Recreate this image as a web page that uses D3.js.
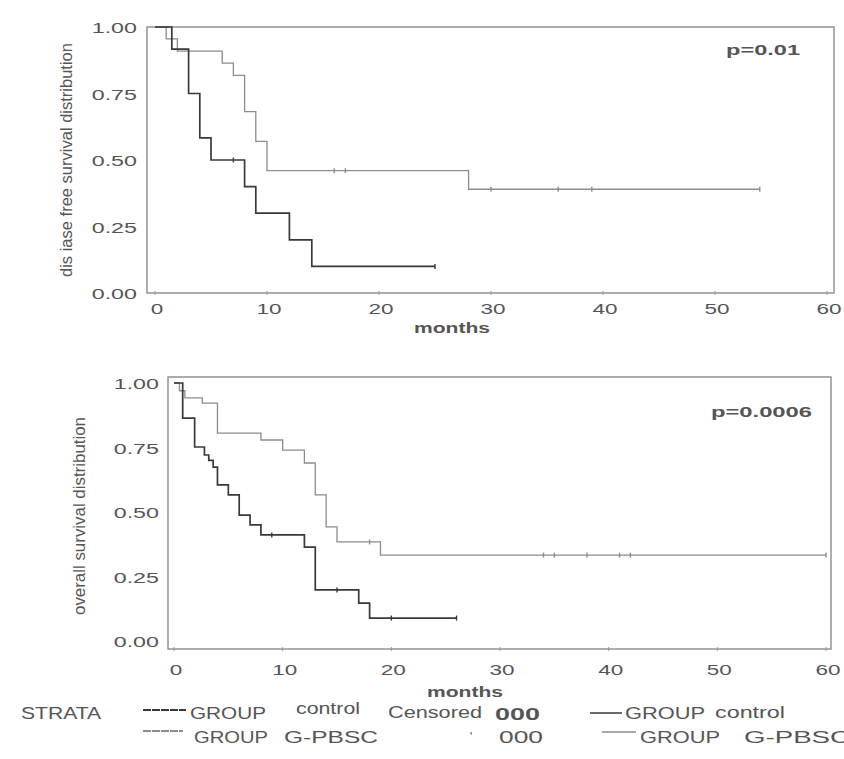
<!DOCTYPE html>
<html>
<head>
<meta charset="utf-8">
<script src="https://cdn.jsdelivr.net/npm/d3@7"></script>
<style>
  body { margin: 0; background: #fff; }
  svg { display: block; }
  text { font-family: "Liberation Sans", Arial, sans-serif; fill: #555; }
</style>
</head>
<body>
<svg id="chart" width="844" height="759"></svg>
<script>
// tick values shared by both panels
const monthTicks = [0, 10, 20, 30, 40, 50, 60];
const survTicks = [0, 0.25, 0.5, 0.75, 1];

// disease free survival - control group
const dfsControlT = [0, 1.5, 3, 4, 5, 8, 9, 12, 14];
const dfsControlS = [1, 0.917, 0.75, 0.583, 0.5, 0.4, 0.3, 0.2, 0.1];
const dfsControlEnd = 25;
const dfsControlCens = [7, 25];

// disease free survival - G-PBSC group
const dfsGpbscT = [0, 1, 2, 6, 7, 8, 9, 10, 28];
const dfsGpbscS = [1, 0.955, 0.909, 0.864, 0.818, 0.682, 0.57, 0.46, 0.39];
const dfsGpbscEnd = 54;
const dfsGpbscCens = [16, 17, 30, 36, 39, 54];

// overall survival - control group
const osControlT = [0, 0.8, 1.9, 2.8, 3.2, 3.6, 4, 5, 6, 7, 8, 12, 13, 17, 18];
const osControlS = [1, 0.864, 0.752, 0.721, 0.70, 0.674, 0.605, 0.566, 0.488, 0.45, 0.411, 0.364, 0.198, 0.147, 0.089];
const osControlEnd = 26;
const osControlCens = [9, 15, 20, 26];

// overall survival - G-PBSC group
const osGpbscT = [0, 0.5, 1, 2.6, 4, 8, 10, 12, 13, 14, 15, 19];
const osGpbscS = [1, 0.97, 0.942, 0.922, 0.806, 0.779, 0.74, 0.69, 0.566, 0.442, 0.384, 0.333];
const osGpbscEnd = 60;
const osGpbscCens = [18, 34, 35, 38, 41, 42, 60];

const svg = d3.select("#chart");
const darkCol = "#383838";
const lightCol = "#8c8c8c";

// the scanned font is much broader than Arial: stretch by factor k
function widen(sel, k) {
  sel.each(function () {
    const w = this.getComputedTextLength();
    d3.select(this).attr("textLength", w * k).attr("lengthAdjust", "spacingAndGlyphs");
  });
}

function drawPanel(p) {
  const x = d3.scaleLinear().domain([0, 60]).range([p.x0, p.x60]);
  const y = d3.scaleLinear().domain([0, 1]).range([p.y0, p.y1]);
  const g = svg.append("g");

  // frame
  g.append("rect")
    .attr("x", p.frame[0]).attr("y", p.frame[1])
    .attr("width", p.frame[2] - p.frame[0]).attr("height", p.frame[3] - p.frame[1])
    .attr("fill", "none").attr("stroke", "#8c8c8c").attr("stroke-width", 1.4);

  // small tick marks on the frame
  g.selectAll(".xt").data(monthTicks).enter().append("line")
    .attr("x1", d => x(d)).attr("x2", d => x(d))
    .attr("y1", p.frame[3] - 2).attr("y2", p.frame[3] + 2)
    .attr("stroke", "#999");

  const yl = g.selectAll(".yl").data(survTicks).enter().append("text")
    .attr("x", p.yLabelX).attr("y", d => y(d) + 6)
    .attr("text-anchor", "end").attr("font-size", 15)
    .text(d => d3.format(".2f")(d));
  widen(yl, 1.55);

  const xl = g.selectAll(".xl").data(monthTicks).enter().append("text")
    .attr("x", d => x(d) + 2).attr("y", p.xLabelY)
    .attr("text-anchor", "middle").attr("font-size", 15)
    .text(d => d);
  widen(xl, 1.5);

  g.append("text")
    .attr("x", p.monthsX).attr("y", p.monthsY)
    .attr("text-anchor", "middle").attr("font-size", 15).attr("font-weight", "bold")
    .attr("fill", "#5a5a5a").attr("textLength", 76).attr("lengthAdjust", "spacingAndGlyphs")
    .text("months");

  g.append("text")
    .attr("transform", `translate(${p.titleX},${p.titleY}) rotate(-90)`)
    .attr("text-anchor", "middle").attr("font-size", 17)
    .attr("font-family", "'Liberation Sans Narrow', 'Liberation Sans', sans-serif")
    .attr("textLength", p.titleLen).attr("lengthAdjust", "spacingAndGlyphs")
    .text(p.title);

  g.append("text")
    .attr("x", p.pX).attr("y", p.pY)
    .attr("text-anchor", "end").attr("font-size", 15).attr("font-weight", "bold")
    .attr("fill", "#333").attr("textLength", p.pLen).attr("lengthAdjust", "spacingAndGlyphs")
    .text(p.pText);

  const line = d3.line().x(d => x(d[0])).y(d => y(d[1])).curve(d3.curveStepAfter);

  p.curves.forEach(c => {
    const pts = c.t.map((t, i) => [t, c.s[i]]);
    pts.push([c.end, c.s[c.s.length - 1]]);
    g.append("path").attr("d", line(pts))
      .attr("fill", "none").attr("stroke", c.color).attr("stroke-width", c.width);
    // censored observations
    const survAt = t => c.s[d3.bisectRight(c.t, t) - 1];
    g.selectAll(null).data(c.cens).enter().append("line")
      .attr("x1", d => x(d)).attr("x2", d => x(d))
      .attr("y1", d => y(survAt(d)) - 2.5).attr("y2", d => y(survAt(d)) + 2.5)
      .attr("stroke", c.color).attr("stroke-width", 1.4);
  });
}

drawPanel({
  x0: 155, x60: 827, y0: 293, y1: 27,
  frame: [147, 27, 834, 293],
  yLabelX: 137, xLabelY: 314, monthsX: 452, monthsY: 333,
  titleX: 72, titleY: 160, titleLen: 234, title: "dis iase free survival distribution",
  pX: 800, pY: 55, pLen: 74, pText: "p=0.01",
  curves: [
    { t: dfsGpbscT, s: dfsGpbscS, end: dfsGpbscEnd, cens: dfsGpbscCens, color: lightCol, width: 1.3 },
    { t: dfsControlT, s: dfsControlS, end: dfsControlEnd, cens: dfsControlCens, color: darkCol, width: 1.7 }
  ]
});

drawPanel({
  x0: 174, x60: 826, y0: 641, y1: 383,
  frame: [168, 377, 831, 649],
  yLabelX: 159, xLabelY: 675, monthsX: 465, monthsY: 697,
  titleX: 85, titleY: 516, titleLen: 198, title: "overall  survival distribution",
  pX: 812, pY: 417, pLen: 101, pText: "p=0.0006",
  curves: [
    { t: osGpbscT, s: osGpbscS, end: osGpbscEnd, cens: osGpbscCens, color: lightCol, width: 1.3 },
    { t: osControlT, s: osControlS, end: osControlEnd, cens: osControlCens, color: darkCol, width: 1.7 }
  ]
});

// legend
const leg = svg.append("g");
const row1 = 713, row2 = 737;
const legLines = [
  { x1: 143, x2: 186, y: row1 - 3, color: darkCol, w: 2, dash: "8,1" },
  { x1: 143, x2: 183, y: row2 - 6, color: lightCol, w: 2, dash: "8,1" },
  { x1: 590, x2: 622, y: row1, color: darkCol, w: 1.5, dash: null },
  { x1: 602, x2: 636, y: row2 - 5, color: lightCol, w: 1.5, dash: null }
];
legLines.forEach(l => {
  leg.append("line").attr("x1", l.x1).attr("x2", l.x2).attr("y1", l.y).attr("y2", l.y)
    .attr("stroke", l.color).attr("stroke-width", l.w).attr("stroke-dasharray", l.dash);
});
// text items: start x, target width, baseline
const legTexts = [
  { s: "STRATA", x: 21, w: 80, y: row1 + 6, size: 17 },
  { s: "GROUP", x: 190, w: 76, y: row1 + 6, size: 17 },
  { s: "control", x: 296, w: 64, y: row1 + 1, size: 16 },
  { s: "Censored", x: 388, w: 94, y: row1 + 5, size: 16 },
  { s: "000", x: 495, w: 45, y: row1 + 7, size: 17, fill: "#333", bold: true },
  { s: "GROUP", x: 625, w: 80, y: row1 + 6, size: 17 },
  { s: "control", x: 715, w: 70, y: row1 + 5, size: 16 },
  { s: "GROUP", x: 194, w: 74, y: row2 + 6, size: 17 },
  { s: "G-PBSC", x: 284, w: 94, y: row2 + 6, size: 17 },
  { s: "'", x: 470, w: 0, y: row2 + 4, size: 12, fill: "#aaa" },
  { s: "000", x: 499, w: 44, y: row2 + 6, size: 17, fill: "#999" },
  { s: "GROUP", x: 640, w: 80, y: row2 + 6, size: 17 },
  { s: "G-PBSC", x: 744, w: 106, y: row2 + 6, size: 17 }
];
legTexts.forEach(t => {
  const el = leg.append("text").attr("x", t.x).attr("y", t.y)
    .attr("font-size", t.size).attr("fill", t.fill || "#555")
    .attr("font-weight", t.bold ? "bold" : "normal").text(t.s);
  if (t.w) el.attr("textLength", t.w).attr("lengthAdjust", "spacingAndGlyphs");
});
</script>
</body>
</html>
